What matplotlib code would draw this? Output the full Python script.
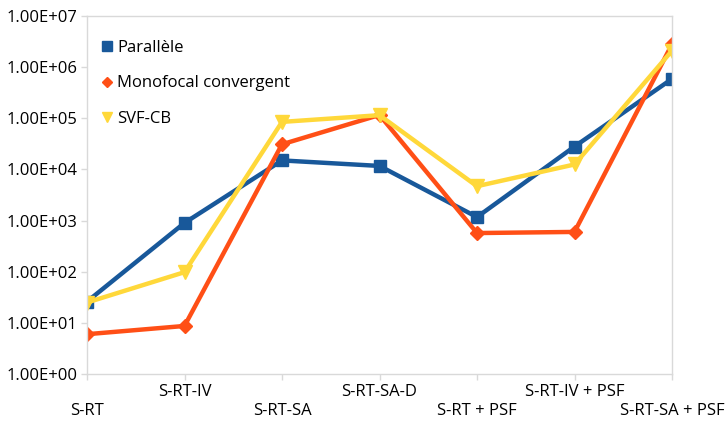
import numpy as np
import matplotlib
import matplotlib.pyplot as plt
import matplotlib.ticker as ticker

matplotlib.rcParams['font.family'] = ['Open Sans', 'DejaVu Sans']

categories = ["S-RT", "S-RT-IV", "S-RT-SA", "S-RT-SA-D", "S-RT + PSF", "S-RT-IV + PSF", "S-RT-SA + PSF"]

parallele = [26, 900, 15000, 11700, 1170, 28000, 590000]
monofocal = [6, 8.7, 31000, 116000, 570, 600, 2800000]
svf_cb = [25, 98, 85000, 115000, 4700, 12500, 2100000]

c_blue, c_orange, c_yellow = "#18589a", "#ff4f16", "#ffd83a"
c_grid = "#d9d9d9"

fig = plt.figure(figsize=(7.27, 4.21), dpi=100)
ax = fig.add_axes([87/727, 1 - 374/421, (672-87)/727, (374-16)/421])

x = np.arange(len(categories))
ax.plot(x, parallele, color=c_blue, lw=3.2, marker='s', ms=9, label='Parallèle')
ax.plot(x, monofocal, color=c_orange, lw=3.2, marker='D', ms=7, label='Monofocal convergent')
ax.plot(x, svf_cb, color=c_yellow, lw=3.2, marker='v', ms=10, label='SVF-CB')

ax.set_yscale('log')
ax.set_ylim(1, 1e7)
ax.set_xlim(0, len(categories) - 1)
ax.yaxis.set_major_locator(ticker.LogLocator(base=10, numticks=10))
ax.yaxis.set_minor_locator(ticker.NullLocator())
ax.yaxis.set_major_formatter(ticker.FuncFormatter(lambda v, p: f"{v:.2E}"))

ax.set_xticks(x)
ax.set_xticklabels(categories)

for s in ax.spines.values():
    s.set_color(c_grid)
    s.set_linewidth(1)
ax.tick_params(axis='both', colors=c_grid, labelcolor='black', labelsize=12, length=4, width=1)
ax.tick_params(axis='y', pad=3)

# alternate the category labels on two rows
for i, t in enumerate(ax.xaxis.get_major_ticks()):
    t.set_pad(3 if i % 2 else 17)

leg = ax.legend(loc='upper left', frameon=False, fontsize=12, labelspacing=1.15,
                handlelength=0.6, handletextpad=0.35, borderaxespad=0.3,
                bbox_to_anchor=(0.005, 0.965), markerscale=0.75)
for h in leg.legend_handles:
    h.set_linestyle('none')

fig.savefig("out.png", dpi=100)
